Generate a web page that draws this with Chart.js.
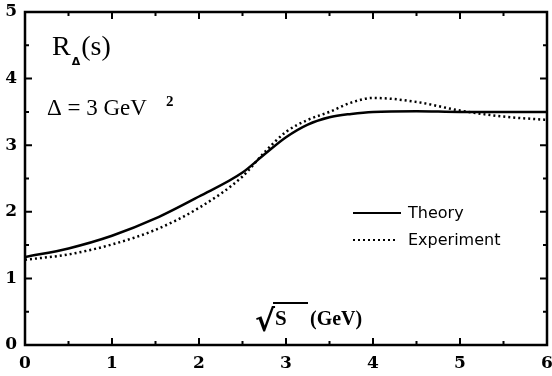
<!DOCTYPE html>
<html>
<head>
<meta charset="utf-8">
<script src="https://cdn.jsdelivr.net/npm/chart.js@4"></script>
<style>
  html, body { margin: 0; padding: 0; background: #fff; }
  #wrap { width: 552px; height: 376px; }
</style>
</head>
<body>
<div id="wrap"><canvas id="canvas"></canvas></div>
<script>
// values
const sqrtS = [0, 0.5, 1, 1.5, 2, 2.5, 2.75, 3, 3.25, 3.5, 3.75, 4, 4.5, 5, 5.5, 6];
const theory = [1.32, 1.45, 1.64, 1.90, 2.23, 2.59, 2.86, 3.12, 3.31, 3.42, 3.47, 3.50, 3.51, 3.50, 3.50, 3.50];
const experiment = [1.28, 1.36, 1.51, 1.73, 2.06, 2.53, 2.89, 3.20, 3.38, 3.50, 3.64, 3.71, 3.65, 3.52, 3.43, 3.38];
const xTicks = [0, 1, 2, 3, 4, 5, 6];
const yTicks = [0, 1, 2, 3, 4, 5];

function toPoints(ys) {
  return sqrtS.map(function (x, i) {
    return { x: x, y: ys[i] };
  });
}

const serif = "'Liberation Serif', 'Times New Roman', serif";

// frame, inward ticks on all four sides, and the text inside the plot
const decor = {
  id: "decor",
  afterDraw(chart) {
    const ctx = chart.ctx;
    const a = chart.chartArea;
    const xs = chart.scales.x;
    const ys = chart.scales.y;
    ctx.save();
    ctx.strokeStyle = "#000";
    ctx.fillStyle = "#000";

    // ticks
    ctx.lineWidth = 2;
    for (let v = 0; v <= 6.001; v += 0.5) {
      const px = xs.getPixelForValue(v);
      const len = Number.isInteger(v) ? 7 : 4;
      ctx.beginPath();
      ctx.moveTo(px, a.bottom); ctx.lineTo(px, a.bottom - len);
      ctx.moveTo(px, a.top); ctx.lineTo(px, a.top + len);
      ctx.stroke();
    }
    for (let v = 0; v <= 5.001; v += 0.5) {
      const py = ys.getPixelForValue(v);
      const len = Number.isInteger(v) ? 7 : 4;
      ctx.beginPath();
      ctx.moveTo(a.left, py); ctx.lineTo(a.left + len, py);
      ctx.moveTo(a.right, py); ctx.lineTo(a.right - len, py);
      ctx.stroke();
    }
    // frame
    ctx.lineWidth = 2.5;
    ctx.strokeRect(a.left, a.top, a.right - a.left, a.bottom - a.top);

    // R_Δ(s)
    ctx.textBaseline = "alphabetic";
    ctx.textAlign = "left";
    let x0 = a.left + 27;
    const yR = a.top + 43;
    ctx.font = "28px " + serif;
    ctx.fillText("R", x0, yR);
    x0 += ctx.measureText("R").width + 1;
    ctx.font = "bold 11px 'DejaVu Sans', sans-serif";
    ctx.fillText("\u0394", x0, yR + 10);
    x0 += ctx.measureText("\u0394").width + 1;
    ctx.font = "28px " + serif;
    ctx.fillText("(s)", x0, yR);

    // Δ = 3 GeV²
    x0 = a.left + 22;
    const yD = a.top + 103;
    ctx.font = "23px " + serif;
    ctx.fillText("\u0394 = 3 GeV", x0, yD);
    x0 += ctx.measureText("\u0394 = 3 GeV").width + 19;
    ctx.font = "bold 15px " + serif;
    ctx.fillText("2", x0, yD - 9);

    // √S (GeV)
    x0 = a.left + 230;
    const yS = a.bottom - 20;
    ctx.font = "bold 30px 'DejaVu Sans', sans-serif";
    ctx.fillText("\u221A", x0, yS + 6);
    const rw = ctx.measureText("\u221A").width;
    ctx.font = "bold 21px " + serif;
    ctx.fillText("S", x0 + rw, yS);
    ctx.fillRect(x0 + rw - 2, yS - 23, 35, 2);
    ctx.font = "bold 20px " + serif;
    ctx.fillText("(GeV)", x0 + rw + 35, yS);

    // legend
    const lx = a.left + 328;
    const ly1 = a.top + 201;
    const ly2 = a.top + 228;
    ctx.lineWidth = 2;
    ctx.beginPath();
    ctx.moveTo(lx, ly1); ctx.lineTo(lx + 48, ly1);
    ctx.stroke();
    ctx.setLineDash([2, 3]);
    ctx.beginPath();
    ctx.moveTo(lx, ly2); ctx.lineTo(lx + 44, ly2);
    ctx.stroke();
    ctx.setLineDash([]);
    ctx.font = "16px 'DejaVu Sans', sans-serif";
    ctx.textBaseline = "middle";
    ctx.fillText("Theory", lx + 55, ly1 + 1);
    ctx.fillText("Experiment", lx + 55, ly2 + 1);
    ctx.restore();
  },
};

const tickFont = { family: "'DejaVu Serif', serif", weight: "bold", size: 17 };

const ctx = document.getElementById("canvas").getContext("2d");
const myChart = new Chart(ctx, {
  type: "line",
  data: {
    datasets: [
      {
        label: "Theory",
        data: toPoints(theory),
        borderColor: "#000",
        borderWidth: 2.5,
        pointRadius: 0,
        fill: false,
        cubicInterpolationMode: "monotone",
      },
      {
        label: "Experiment",
        data: toPoints(experiment),
        borderColor: "#000",
        borderWidth: 2.5,
        borderDash: [2, 3],
        pointRadius: 0,
        fill: false,
        cubicInterpolationMode: "monotone",
      },
    ],
  },
  options: {
    responsive: true,
    maintainAspectRatio: false,
    animation: false,
    layout: { padding: { top: 12, right: 5, left: 0, bottom: 0 } },
    plugins: { legend: { display: false }, tooltip: { enabled: false } },
    scales: {
      x: {
        type: "linear",
        min: 0,
        max: 6,
        afterBuildTicks: function (scale) {
          scale.ticks = xTicks.map(function (v) { return { value: v }; });
        },
        afterFit: function (scale) {
          scale.height = 31;
          scale.paddingLeft = 0;
          scale.paddingRight = 0;
        },
        grid: { display: false, drawTicks: false },
        border: { display: false },
        ticks: { color: "#000", font: tickFont, padding: 8, maxRotation: 0 },
      },
      y: {
        type: "linear",
        min: 0,
        max: 5,
        afterBuildTicks: function (scale) {
          scale.ticks = yTicks.map(function (v) { return { value: v }; });
        },
        afterFit: function (scale) {
          scale.width = 25;
          scale.paddingTop = 0;
          scale.paddingBottom = 0;
        },
        grid: { display: false, drawTicks: false },
        border: { display: false },
        ticks: { color: "#000", font: tickFont, padding: 8 },
      },
    },
  },
  plugins: [decor],
});
</script>
</body>
</html>
